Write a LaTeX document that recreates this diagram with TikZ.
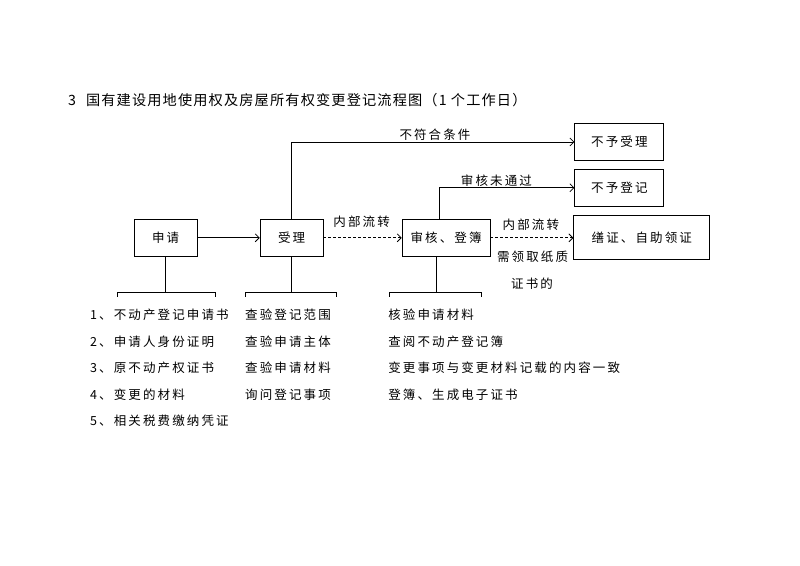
\documentclass[tikz,border=0pt]{standalone}
\usepackage{fontspec}
\newfontfamily\cjk[LetterSpace=17]{Noto Sans CJK SC}
\newfontfamily\cjktitle[LetterSpace=8]{Noto Sans CJK SC}
\usetikzlibrary{positioning,arrows.meta}

\begin{document}
\begin{tikzpicture}[
      font=\cjk\fontsize{12.5}{14}\selectfont,
      box/.style={draw, line width=0.8pt, minimum height=1.32cm, inner sep=2pt},
      lbl/.style={inner sep=1pt},
      item/.style={anchor=west, inner sep=0pt},
      ln/.style={line width=0.8pt},
      arr/.style={line width=0.8pt, -{Straight Barb[length=4pt,width=8pt]}}]
    \useasboundingbox (0,0) rectangle (28.12,19.89);
    \node[anchor=west, inner sep=0pt, font=\cjktitle\fontsize{14.2}{16}\selectfont] (title) at (2.39,16.38)
      {3\hspace{10pt}国有建设用地使用权及房屋所有权变更登记流程图（1 个工作日）};
    % main row
    \node[box, minimum width=2.21cm] (app) at (5.82,11.53) {申请};
    \node[box, minimum width=2.21cm] (acc) at (10.25,11.53) {受理};
    \node[box, minimum width=3.09cm] (chk) at (15.68,11.53) {审核、登簿};
    \node[box, minimum width=4.78cm, minimum height=1.55cm] (cert) at (22.56,11.53) {缮证、自助领证};
    \node[box, minimum width=3.13cm] (rej1) at (21.77,14.90) {不予受理};
    \node[box, minimum width=3.13cm] (rej2) at (21.77,13.29) {不予登记};
    \draw[arr] (app) -- (acc);
    \draw[arr, densely dashed] (acc) -- (chk);
    \draw[arr, densely dashed] (chk) -- (cert);
    \draw[arr] (acc.north) |- (rej1.west);
    \draw[arr] ([xshift=-0.25cm]chk.north) |- (rej2.west);
    \node[lbl] (l1) at (15.29,15.15) {不符合条件};
    \node[lbl] (l2) at (17.45,13.53) {审核未通过};
    \node[lbl] (l3) at (12.71,12.09) {内部流转};
    \node[lbl] (l4) at (18.66,11.99) {内部流转};
    \node[lbl] (l5) at (18.72,10.86) {需领取纸质};
    \node[lbl] (l6) at (18.70,9.91) {证书的};
    % brackets
    \coordinate (b1l) at (4.11,9.60);  \coordinate (b1r) at (7.56,9.60);
    \coordinate (b2l) at (8.61,9.60);  \coordinate (b2r) at (11.84,9.60);
    \coordinate (b3l) at (13.67,9.60); \coordinate (b3r) at (16.91,9.60);
    \draw[ln] (app.south) -- (app.south |- b1l);
    \draw[ln] (acc.south) -- (acc.south |- b2l);
    \draw[ln] ([xshift=-0.35cm]chk.south) -- ([xshift=-0.35cm]chk.south |- b3l);
    \foreach \l/\r in {b1l/b1r,b2l/b2r,b3l/b3r}
      \draw[ln] ([yshift=-0.14cm]\l) -- (\l) -- (\r) -- ([yshift=-0.14cm]\r);
    % lists
    \foreach \t [count=\i] in {1、不动产登记申请书,2、申请人身份证明,3、原不动产权证书,4、变更的材料,5、相关税费缴纳凭证}
      \node[item] (req\i) at (3.16,{8.82-(\i-1)*0.93}) {\t};
    \foreach \t [count=\i] in {查验登记范围,查验申请主体,查验申请材料,询问登记事项}
      \node[item] (acc\i) at (8.61,{8.82-(\i-1)*0.93}) {\t};
    \foreach \t [count=\i] in {核验申请材料,查阅不动产登记簿,变更事项与变更材料记载的内容一致,登簿、生成电子证书}
      \node[item] (chk\i) at (13.64,{8.82-(\i-1)*0.93}) {\t};
  \end{tikzpicture}
\end{document}
